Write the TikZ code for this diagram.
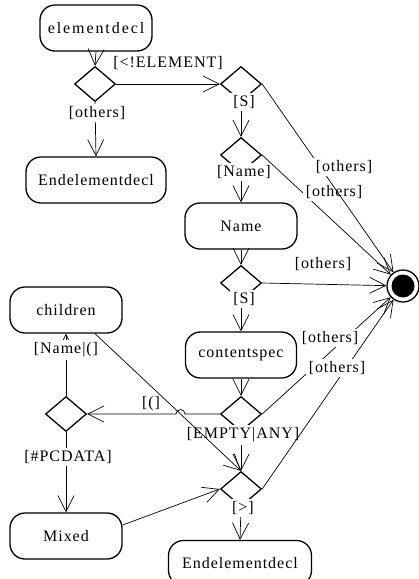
\documentclass[tikz,border=0pt]{standalone}
\usepackage{fontspec}
\setmainfont{Liberation Serif}[LetterSpace=6]
\usetikzlibrary{arrows.meta,shapes.geometric,calc}
\begin{document}
\begin{tikzpicture}[x=1pt,y=-1pt,
  every node/.style={font=\fontsize{16}{19}\selectfont},
  state/.style={draw, line width=1.3pt, rounded corners=15pt, minimum height=46pt, inner sep=0pt},
  choice/.style={draw, diamond, line width=1.3pt, minimum width=41pt, minimum height=35pt, inner sep=0pt},
  lbl/.style={fill=white, inner xsep=3pt, inner ysep=2.5pt},
  arr/.style={line width=0.7pt, -{Straight Barb[length=16pt,width=16pt,line width=0.7pt]}},
]
\useasboundingbox (0,0) rectangle (419,579);

% states
\node[state, minimum width=112pt] (elementdecl) at (96,28) {\addfontfeatures{LetterSpace=12}elementdecl};
\node[state, minimum width=140pt] (end1) at (96,180) {Endelementdecl};
\node[state, minimum width=112pt] (name) at (241,226) {Name};
\node[state, minimum width=111pt] (contentspec) at (241,355) {contentspec};
\node[state, minimum width=112pt] (children) at (66,310) {children};
\node[state, minimum width=112pt] (mixed) at (66,536) {Mixed};
\node[state, minimum width=143pt, minimum height=45pt] (end2) at (240,563) {Endelementdecl};

% choices
\node[choice] (d1) at (95,84) {};
\node[choice] (d2) at (241,84) {};
\node[choice] (d3) at (241,155) {};
\node[choice] (d4) at (241,283) {};
\node[choice] (d5) at (241,414) {};
\node[choice] (d6) at (241,489) {};
\node[choice] (d7) at (66,414) {};

% final state
\node[circle, draw, line width=1.3pt, minimum size=32pt, inner sep=0pt] (final) at (403,286) {};
\fill (final.center) circle[radius=11.5pt];

% connectors
\draw[arr] (elementdecl.south) -- (d1.north);
\draw[arr] (d1.east) -- (d2.west);
\node (l1) at (168,63) {[<!ELEMENT]};
\draw[arr] (d1.south) -- (end1.north);
\node[lbl] (l2) at (97,113) {[others]};
\draw[arr] (d2.south) -- (d3.north);
\node[lbl] (l3) at (244,102) {[S]};
\draw[arr] (d3.south) -- (name.north);
\node[lbl] (l4) at (244,172) {[Name]};
\draw[arr] (d3.east) -- (final);
\node[lbl] (l5) at (334,192) {[others]};
\draw[arr] (d2.east) -- (final);
\node[lbl] (l6) at (344,167) {[others]};
\draw[arr] (name.south) -- (d4.north);
\draw[arr] (d4.east) -- (final);
\node[lbl] (l7) at (323,264) {[others]};
\draw[arr] (d4.south) -- (contentspec.north);
\node[lbl] (l8) at (244,299) {[S]};
\draw[arr] (contentspec.south) -- (d5.north);

\coordinate (jmp) at (180.5,414);
\draw[arr] (d5.west) -- ([xshift=4.5pt]jmp) arc[start angle=0,end angle=180,radius=4.5pt] -- (d7.east);
\node (l9) at (151,404) {[(]};
\draw[arr] (d7.north) -- (children.south);
\node[lbl] (l10) at (66,350) {[Name|(]};
\draw[arr] (d7.south) -- (mixed.north);
\node[lbl] (l11) at (68,457) {[\#PCDATA]};
\draw[arr] (d5.south) -- (d6.north);
\node[lbl] (l12) at (243,435) {[EMPTY|ANY]};
\draw[arr] (d5.east) -- (final);
\node[lbl] (l13) at (330,338) {[others]};
\draw[arr] (d6.east) -- (final);
\node[lbl] (l14) at (337,368) {[others]};
\draw[arr] ([yshift=11pt]mixed.east) -- (d6.west);
\draw[arr] ([xshift=29pt]children.south) -- (d6.north);
\draw[arr] (d6.south) -- (end2.north);
\node[lbl] (l15) at (243,508) {[>]};
\end{tikzpicture}
\end{document}
